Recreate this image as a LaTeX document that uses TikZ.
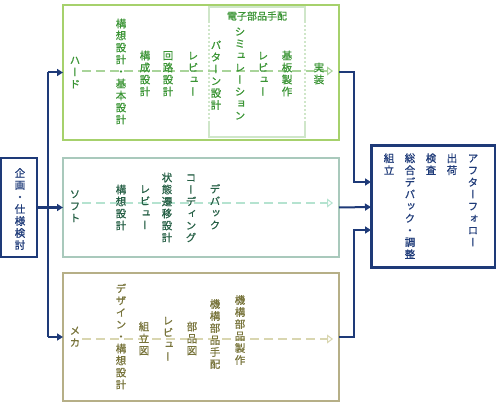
\documentclass[tikz,border=0pt]{standalone}
\usepackage{fontspec}
\usetikzlibrary{arrows.meta,calc}

\newfontfamily\jp[RawFeature=+vert, FakeBold=0.8]{Noto Sans CJK JP}
\newfontfamily\jph[FakeBold=0.8]{Noto Sans CJK JP}

\definecolor{navy}{HTML}{1E3A78}
\definecolor{hardline}{HTML}{A6D16C}
\definecolor{hardtext}{HTML}{3A9434}
\definecolor{harddash}{HTML}{A9D49A}
\definecolor{partsline}{HTML}{CFE6C9}
\definecolor{softline}{HTML}{A9C9BC}
\definecolor{softtext}{HTML}{255F45}
\definecolor{softdash}{HTML}{B5E3D0}
\definecolor{mechaline}{HTML}{B6AF87}
\definecolor{mechatext}{HTML}{77733A}
\definecolor{mechadash}{HTML}{D9D6B0}

% one character per line
\makeatletter
\newcommand\tate[1]{\vbox{\offinterlineskip\@tfor\tatec:=#1\do{\hbox to 12pt{\hss\vrule width 0pt height 10pt depth 2pt\tatec\hss}}}}
\makeatother

\begin{document}
\begin{tikzpicture}[x=1pt,y=-1pt]
\useasboundingbox (0,0) rectangle (496,403);

\begin{scope}[every node/.style={rectangle,draw,inner sep=0pt,outer sep=0pt}]

    \node (plan) at (19,207.5) [draw=navy, line width=2pt, minimum width=36pt, minimum height=99pt] {};
    \node (hard) at (201,72.5) [draw=hardline, line width=1.5pt, minimum width=276pt, minimum height=135pt] {};
    \node (soft) at (201,207.5) [draw=softline, line width=1.5pt, minimum width=276pt, minimum height=99pt] {};
    \node (mecha) at (201,337) [draw=mechaline, line width=1.5pt, minimum width=276pt, minimum height=128pt] {};
    \node (after) at (433,207) [draw=navy, line width=3pt, minimum width=124pt, minimum height=122pt] {};
\end{scope}

% parts box
\begin{scope}[draw=partsline, line width=2pt]
    \draw (209,21) -- (209,7) -- (305,7) -- (305,21);
    \draw (209,121) -- (209,137) -- (305,137) -- (305,121);
    \draw [dotted] (209,21) -- (209,121);
    \draw [dotted] (305,21) -- (305,121);
\end{scope}
\node (parts) at (257,16) [text=hardtext, font=\jph\fontsize{10}{12}\selectfont, inner sep=0pt] {電子部品手配};

\coordinate (hardgo) at (82,71);
\coordinate (softgo) at (82,203);
\coordinate (mechago) at (82,339);

\begin{scope}[line width=2pt, dash pattern=on 9pt off 5pt,
              -{Triangle[open,length=6pt,width=9pt,line width=1pt]}]
    \draw [harddash] (hardgo) -- ($(hardgo -| hard.east)+(-6,0)$);
    \draw [softdash] (softgo) -- ($(softgo -| soft.east)+(-6,0)$);
    \draw [mechadash] (mechago) -- ($(mechago -| mecha.east)+(-6,0)$);
\end{scope}

\begin{scope}[every node/.style={inner sep=0pt,font=\jp\fontsize{10.5}{12}\selectfont}]

    \node (plantext) at (20,209) [text=navy] {\tate{企画・仕様検討}};

    \node (hardlbl) at (75,72) [text=hardtext] {\tate{ハード}};
    \node (h1) at (121,71.5) [text=hardtext] {\tate{構想設計・基本設計}};
    \node (h2) at (145,73.5) [text=hardtext] {\tate{構成設計}};
    \node (h3) at (168,73.5) [text=hardtext] {\tate{回路設計}};
    \node (h4) at (193,73.5) [text=hardtext] {\tate{レビュー}};
    \node (h5) at (216,75) [text=hardtext] {\tate{パターン設計}};
    \node (h6) at (240,73.5) [text=hardtext] {\tate{シミュレーション}};
    \node (h7) at (263,73.5) [text=hardtext] {\tate{レビュー}};
    \node (h8) at (287,73.5) [text=hardtext] {\tate{基板製作}};
    \node (h9) at (319,73.5) [text=hardtext] {\tate{実装}};

    \node (softlbl) at (75,206) [text=softtext] {\tate{ソフト}};
    \node (s1) at (121,207.5) [text=softtext] {\tate{構想設計}};
    \node (s2) at (145,207) [text=softtext] {\tate{レビュー}};
    \node (s3) at (167,207.5) [text=softtext] {\tate{状態遷移設計}};
    \node (s4) at (191,207.5) [text=softtext] {\tate{コーディング}};
    \node (s5) at (215,207) [text=softtext] {\tate{デバック}};

    \node (mechalbl) at (75,336.5) [text=mechatext] {\tate{メカ}};
    \node (m1) at (121,336.5) [text=mechatext] {\tate{デザイン・構想設計}};
    \node (m2) at (144,338.5) [text=mechatext] {\tate{組立図}};
    \node (m3) at (168,338.5) [text=mechatext] {\tate{レビュー}};
    \node (m4) at (192,338.5) [text=mechatext] {\tate{部品図}};
    \node (m5) at (215,334) [text=mechatext] {\tate{機構部品手配}};
    \node (m6) at (240,330) [text=mechatext] {\tate{機構部品製作}};

    \node (a1) at (473,152) [anchor=north, text=navy] {\tate{アフターフォロー}};
    \node (a2) at (452,152) [anchor=north, text=navy] {\tate{出荷}};
    \node (a3) at (431,152) [anchor=north, text=navy] {\tate{検査}};
    \node (a4) at (410,152) [anchor=north, text=navy] {\tate{総合デバック・調整}};
    \node (a5) at (389,152) [anchor=north, text=navy] {\tate{組立}};
\end{scope}

% connectors
\coordinate (split) at (48,207);
\coordinate (merge) at (354,207);

\begin{scope}[draw=navy, line width=2pt, >={Triangle[length=6pt,width=7pt]}]
    \draw [->, line width=3.5pt] (plan.east) -- (soft.west);
    \draw (split |- hard.west) -- (split |- mecha.west);
    \draw [->] (split |- hard.west) -- (hard.west);
    \draw [->] (split |- mecha.west) -- (mecha.west);
    \draw [->] (hard.east) -| ([yshift=25pt]after.west -| merge) -- ([yshift=25pt]after.west);
    \draw [->] (soft.east) -- (after.west);
    \draw [->] (mecha.east) -| ([yshift=-23pt]after.west -| merge) -- ([yshift=-23pt]after.west);
\end{scope}

\end{tikzpicture}
\end{document}
